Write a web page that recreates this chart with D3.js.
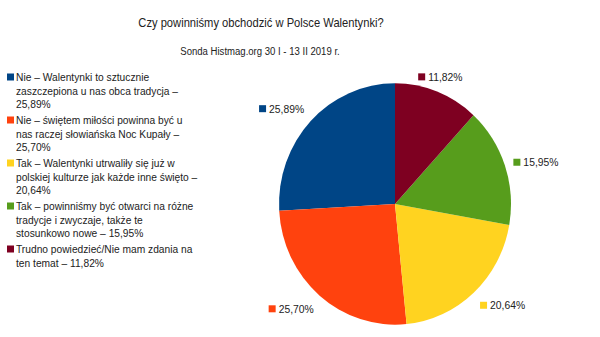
<!DOCTYPE html>
<html>
<head>
<meta charset="utf-8">
<script src="https://cdn.jsdelivr.net/npm/d3@7"></script>
<style>
  html, body { margin: 0; padding: 0; background: #fff; }
  svg { display: block; font-family: "Liberation Sans", Arial, sans-serif; }
</style>
</head>
<body>
<svg id="chart" width="600" height="337"></svg>
<script>
// Poll answers, in legend order
const categories = [
  "Nie – Walentynki to sztucznie zaszczepiona u nas obca tradycja",
  "Nie – świętem miłości powinna być u nas raczej słowiańska Noc Kupały",
  "Tak – Walentynki utrwaliły się już w polskiej kulturze jak każde inne święto",
  "Tak – powinniśmy być otwarci na różne tradycje i zwyczaje, także te stosunkowo nowe",
  "Trudno powiedzieć/Nie mam zdania na ten temat"
];
const values = [25.89, 25.70, 20.64, 15.95, 11.82];
const colors = ["#004586", "#ff420e", "#ffd320", "#579d1c", "#7e0021"];
const legendLines = [
  ["Nie – Walentynki to sztucznie", "zaszczepiona u nas obca tradycja –", "25,89%"],
  ["Nie – świętem miłości powinna być u", "nas raczej słowiańska Noc Kupały –", "25,70%"],
  ["Tak – Walentynki utrwaliły się już w", "polskiej kulturze jak każde inne święto –", "20,64%"],
  ["Tak – powinniśmy być otwarci na różne", "tradycje i zwyczaje, także te", "stosunkowo nowe – 15,95%"],
  ["Trudno powiedzieć/Nie mam zdania na", "ten temat – 11,82%"]
];
const title = "Czy powinniśmy obchodzić w Polsce Walentynki?";
const subtitle = "Sonda Histmag.org 30 I - 13 II 2019 r.";

const fmt = v => d3.format(".2f")(v).replace(".", ",") + "%";

const svg = d3.select("#chart");

// Text drawn slightly condensed horizontally
function condensed(parent, x, y, size, sx, str, anchor) {
  return parent.append("text")
    .attr("transform", `translate(${x},${y}) scale(${sx},1)`)
    .attr("text-anchor", anchor || "start")
    .attr("font-size", size).attr("fill", "#222").text(str);
}

condensed(svg, 261, 27, 13, 0.86, title, "middle");
condensed(svg, 260, 55, 11, 0.87, subtitle, "middle");

// Legend
const lineH = 13.5, entryGap = 16;
let y = 77;
const legend = svg.append("g");
legendLines.forEach((lines, i) => {
  const g = legend.append("g");
  g.append("rect").attr("x", 7).attr("y", y - 3.5).attr("width", 7).attr("height", 7)
    .attr("fill", colors[i]);
  lines.forEach((ln, j) => {
    condensed(g, 16, y + j * lineH + 4, 11.5, 0.89, ln);
  });
  y += (lines.length - 1) * lineH + entryGap;
});

// Pie: first slice starts at 12 o'clock and runs counter-clockwise
const cx = 395, cy = 204, r = 116, sy = 1.04;
const pie = d3.pie().sort(null).startAngle(0).endAngle(-2 * Math.PI);
const arcs = pie(values);
const arc = d3.arc().innerRadius(0).outerRadius(r);

const pg = svg.append("g").attr("transform", `translate(${cx},${cy}) scale(1,${sy})`);
pg.selectAll("path").data(arcs).join("path")
  .attr("d", arc)
  .attr("fill", (d, i) => colors[i]);

// Value labels just outside each slice
const lr = 125, lsx = 0.9;
const labels = svg.append("g");
arcs.forEach((d, i) => {
  const a = (d.startAngle + d.endAngle) / 2;
  const s = Math.sin(a), c = Math.cos(a);
  const px = cx + lr * s, py = cy - lr * c * sy;
  const g = labels.append("g");
  const t = condensed(g, 10, 4, 11.5, lsx, fmt(values[i]));
  const w = 10 + t.node().getComputedTextLength() * lsx;
  const h = 12;
  g.append("rect").attr("x", 0).attr("y", -3.5).attr("width", 7).attr("height", 7)
    .attr("fill", colors[i]);
  const left = s > 0.5 ? px : s < -0.5 ? px - w : px - w / 2;
  const midY = c > 0.5 ? py - h / 2 : c < -0.5 ? py + h / 2 : py;
  g.attr("transform", `translate(${left},${midY})`);
});
</script>
</body>
</html>
